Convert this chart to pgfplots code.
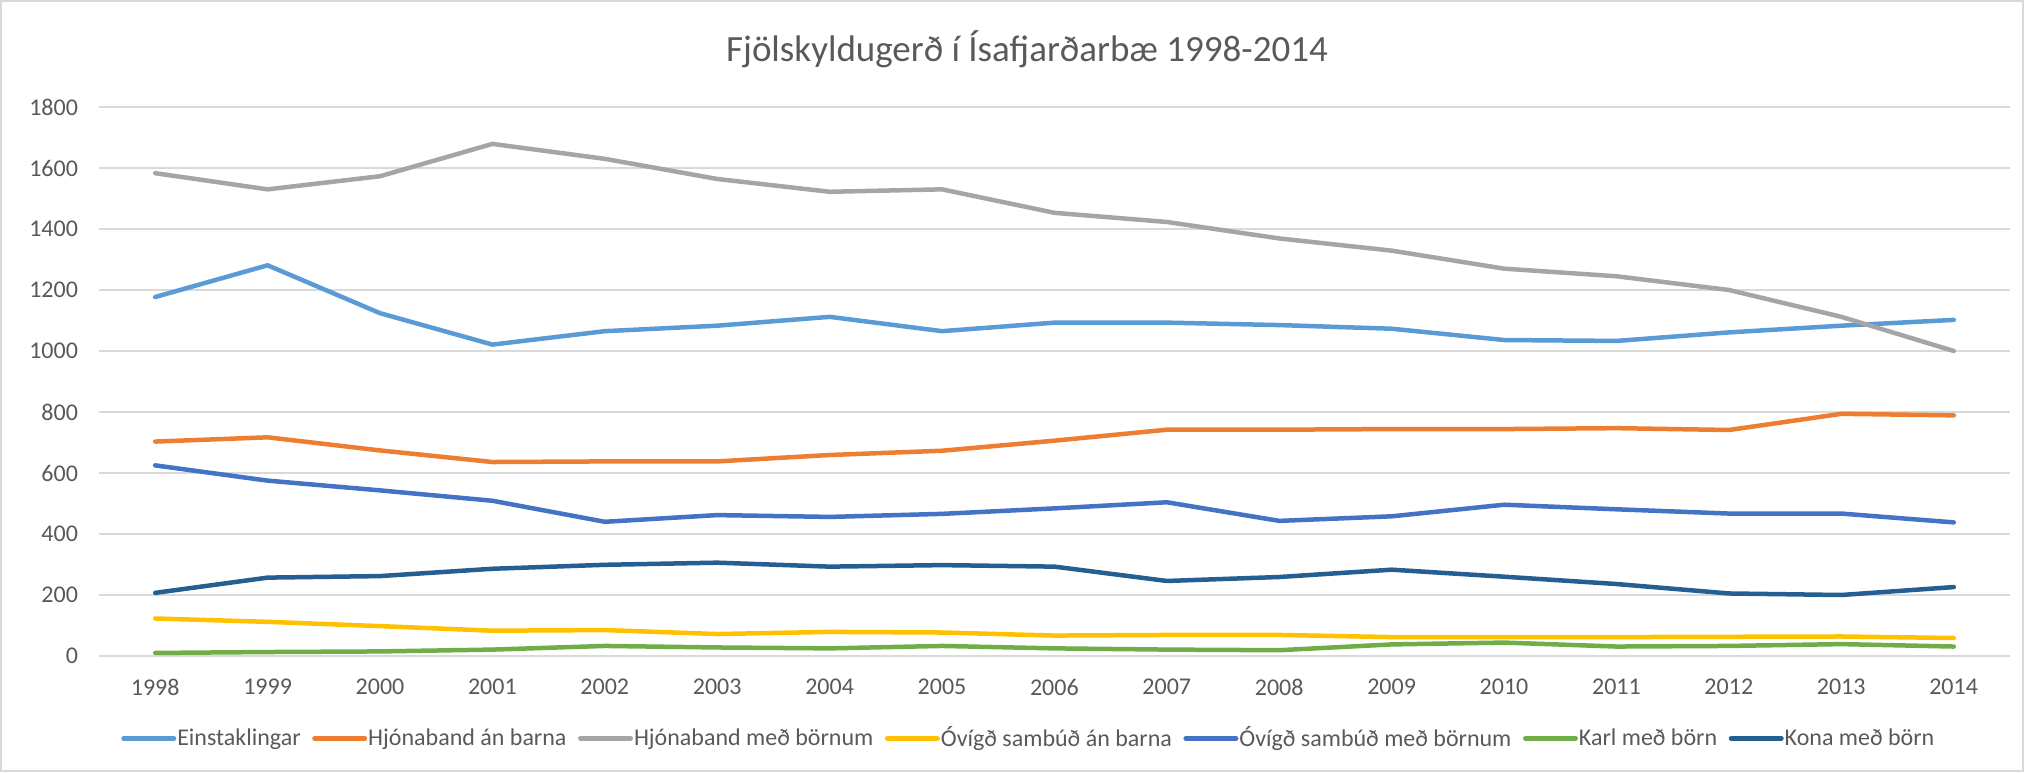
\documentclass[border=0pt]{standalone}
\usepackage{fontspec}
\setmainfont{Carlito}
\usepackage{pgfplots}
\pgfplotsset{compat=1.18}
\definecolor{cEin}{HTML}{5B9BD5}
\definecolor{cHan}{HTML}{ED7D31}
\definecolor{cHmb}{HTML}{A5A5A5}
\definecolor{cOan}{HTML}{FFC000}
\definecolor{cOmb}{HTML}{4472C4}
\definecolor{cKarl}{HTML}{70AD47}
\definecolor{cKona}{HTML}{255E91}
\definecolor{gridc}{HTML}{D9D9D9}
\definecolor{txt}{HTML}{595959}
\begin{document}
\begin{tikzpicture}
\path[use as bounding box] (-49.5pt,-58pt) rectangle (962.5pt,328pt);
\draw[gridc, line width=0.8pt] (-49pt,-57.5pt) rectangle (962pt,327.5pt);
\node[txt, font=\fontsize{18.5}{21}\selectfont, anchor=base] at (464pt,297pt) {Fjölskyldugerð í Ísafjarðarbæ 1998-2014};
\begin{axis}[
  at={(0,0)}, anchor=south west,
  scale only axis, width=955.5pt, height=274.5pt,
  xmin=1997.5, xmax=2014.5, ymin=0, ymax=1800,
  xtick={1998,...,2014}, ytick={0,200,...,1800},
  /pgf/number format/1000 sep={},
  /pgf/number format/assume math mode=true,
  axis line style={draw=none},
  major tick length=0pt,
  ymajorgrids, grid style={gridc, line width=0.9pt},
  tick label style={txt, font=\fontsize{12}{14}\selectfont},
  xticklabel style={yshift=-8pt},
  yticklabel style={xshift=-7pt},
  clip=false,
  legend columns=7,
  legend style={draw=none, fill=none, at={(0.4863,-0.150)}, anchor=center,
    inner sep=0pt, nodes={inner sep=0.5pt},
    font=\fontsize{12}{14}\selectfont, text=txt,
    /tikz/every odd column/.append style={column sep=0pt},
    /tikz/every even column/.append style={column sep=5.25pt}},
  legend image code/.code={\draw[line width=2.5pt, line cap=round] (0pt,0pt) -- (25pt,0pt);},
  every axis plot/.append style={line width=2.25pt, line join=round, line cap=round, mark=none},
]
\addplot[cEin] coordinates {(1998,1177)(1999,1281)(2000,1124)(2001,1021)(2002,1065)(2003,1083)(2004,1112)(2005,1065)(2006,1093)(2007,1093)(2008,1085)(2009,1073)(2010,1036)(2011,1033)(2012,1061)(2013,1083)(2014,1102)};
\addlegendentry{Einstaklingar}
\addplot[cHan] coordinates {(1998,703)(1999,717)(2000,674)(2001,636)(2002,638)(2003,638)(2004,659)(2005,673)(2006,706)(2007,742)(2008,742)(2009,744)(2010,744)(2011,747)(2012,741)(2013,794)(2014,789)};
\addlegendentry{Hjónaband án barna}
\addplot[cHmb] coordinates {(1998,1583)(1999,1530)(2000,1573)(2001,1679)(2002,1630)(2003,1564)(2004,1522)(2005,1530)(2006,1453)(2007,1423)(2008,1369)(2009,1329)(2010,1270)(2011,1245)(2012,1200)(2013,1112)(2014,1000)};
\addlegendentry{Hjónaband með börnum}
\addplot[cOan] coordinates {(1998,123)(1999,112)(2000,98)(2001,83)(2002,85)(2003,72)(2004,79)(2005,77)(2006,67)(2007,69)(2008,69)(2009,62)(2010,62)(2011,62)(2012,63)(2013,64)(2014,59)};
\addlegendentry{Óvígð sambúð án barna}
\addplot[cOmb] coordinates {(1998,625)(1999,575)(2000,543)(2001,509)(2002,440)(2003,462)(2004,456)(2005,466)(2006,484)(2007,504)(2008,443)(2009,458)(2010,496)(2011,481)(2012,467)(2013,467)(2014,438)};
\addlegendentry{Óvígð sambúð með börnum}
\addplot[cKarl] coordinates {(1998,10)(1999,13)(2000,15)(2001,21)(2002,33)(2003,28)(2004,25)(2005,33)(2006,25)(2007,21)(2008,19)(2009,38)(2010,44)(2011,31)(2012,33)(2013,39)(2014,31)};
\addlegendentry{Karl með börn}
\addplot[cKona] coordinates {(1998,207)(1999,257)(2000,262)(2001,286)(2002,299)(2003,306)(2004,293)(2005,298)(2006,293)(2007,246)(2008,259)(2009,283)(2010,260)(2011,236)(2012,205)(2013,200)(2014,226)};
\addlegendentry{Kona með börn}
\end{axis}
\end{tikzpicture}
\end{document}
